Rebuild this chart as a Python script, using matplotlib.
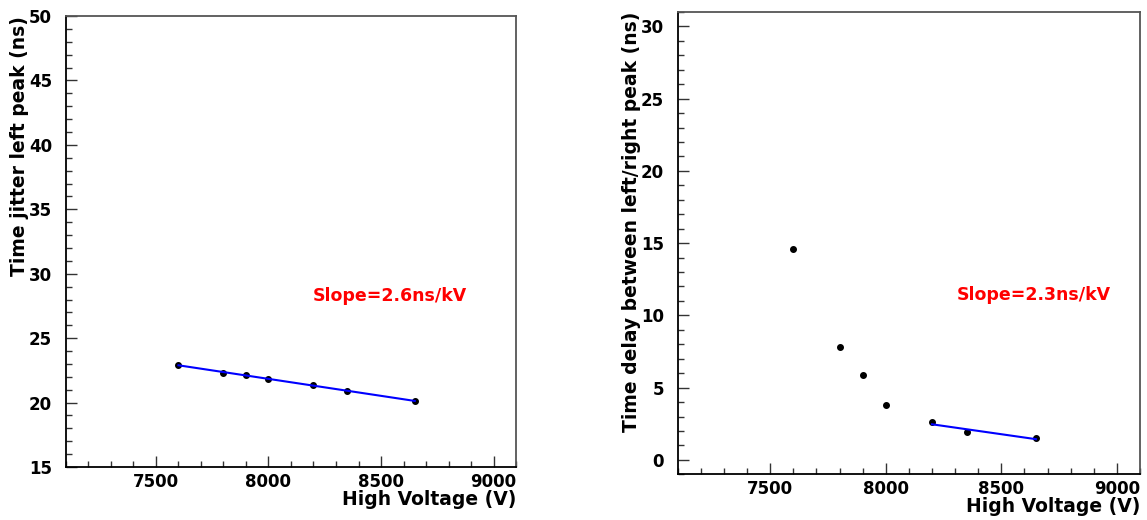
import numpy as np
import matplotlib
matplotlib.use("Agg")
import matplotlib.pyplot as plt
from matplotlib.ticker import MultipleLocator

# Data
hv = [7600, 7800, 7900, 8000, 8200, 8350, 8650]
jitter = [22.9, 22.3, 22.14, 21.83, 21.4, 20.9, 20.1]
delay = [14.6, 7.78, 5.87, 3.8, 2.6, 1.91, 1.50]
fit_start_right = 4  # index from which the right fit starts
slope_labels = ["Slope=2.6ns/kV", "Slope=2.3ns/kV"]
ylabels = ["Time jitter left peak (ns)", "Time delay between left/right peak (ns)"]
xlabel = "High Voltage (V)"

plt.rcParams['font.family'] = ['DejaVu Sans']
plt.rcParams['font.weight'] = 'bold'

fig = plt.figure(figsize=(11.47, 5.2), dpi=100)
ax1 = fig.add_axes([0.0575, 0.1019, 0.3924, 0.8672])
ax2 = fig.add_axes([0.5909, 0.0879, 0.4030, 0.8890])


def style(ax, ylim, ymaj):
    ax.set_xlim(7100, 9100)
    ax.set_ylim(*ylim)
    ax.xaxis.set_major_locator(MultipleLocator(500))
    ax.xaxis.set_minor_locator(MultipleLocator(100))
    ax.yaxis.set_major_locator(MultipleLocator(ymaj))
    ax.yaxis.set_minor_locator(MultipleLocator(1))
    ax.tick_params(which='both', direction='in', top=False, right=False,
                   labelsize=12, width=1.0, color='#333333')
    ax.tick_params(which='major', length=8)
    ax.tick_params(axis='x', which='major', pad=4)
    ax.tick_params(axis='y', which='major', pad=10)
    ax.tick_params(which='minor', length=4)
    for lab in ax.get_xticklabels() + ax.get_yticklabels():
        lab.set_fontweight('bold')
    for s in ax.spines.values():
        s.set_linewidth(1.3)
    ax.spines['left'].set_color('black')
    ax.spines['bottom'].set_color('black')
    ax.spines['top'].set_color('#555555')
    ax.spines['right'].set_color('#555555')
    ax.set_xlabel(xlabel, fontsize=13.5, fontweight='bold')
    h = ax.get_position().height * fig.get_figheight() * fig.dpi
    ax.xaxis.set_label_coords(1.0, -32.0 / h)
    ax.xaxis.label.set_ha('right')
    ax.xaxis.label.set_va('center')


# Left panel
style(ax1, (15, 50), 5)
ax1.plot(hv, jitter, 'o', color='black', markersize=4)
p1 = np.polyfit(hv, jitter, 1)
xs1 = np.array([hv[0], hv[-1]])
ax1.plot(xs1, np.polyval(p1, xs1), color='blue', lw=1.5)
ax1.text(8196, 28.3, slope_labels[0], color='red', fontsize=12.5,
         fontweight='bold', ha='left', va='center')
ax1.set_ylabel(ylabels[0], loc='top', fontsize=13.5, fontweight='bold', labelpad=0)

# Right panel
style(ax2, (-1, 31), 5)
ax2.plot(hv, delay, 'o', color='black', markersize=4)
hv_r = hv[fit_start_right:]
d_r = delay[fit_start_right:]
p2 = np.polyfit(hv_r, d_r, 1)
xs2 = np.array([hv_r[0], hv_r[-1]])
ax2.plot(xs2, np.polyval(p2, xs2), color='blue', lw=1.5)
ax2.text(8307, 11.4, slope_labels[1], color='red', fontsize=12.5,
         fontweight='bold', ha='left', va='center')
ax2.set_ylabel(ylabels[1], loc='top', fontsize=13.5, fontweight='bold', labelpad=0)

fig.savefig("out.png", dpi=100)
